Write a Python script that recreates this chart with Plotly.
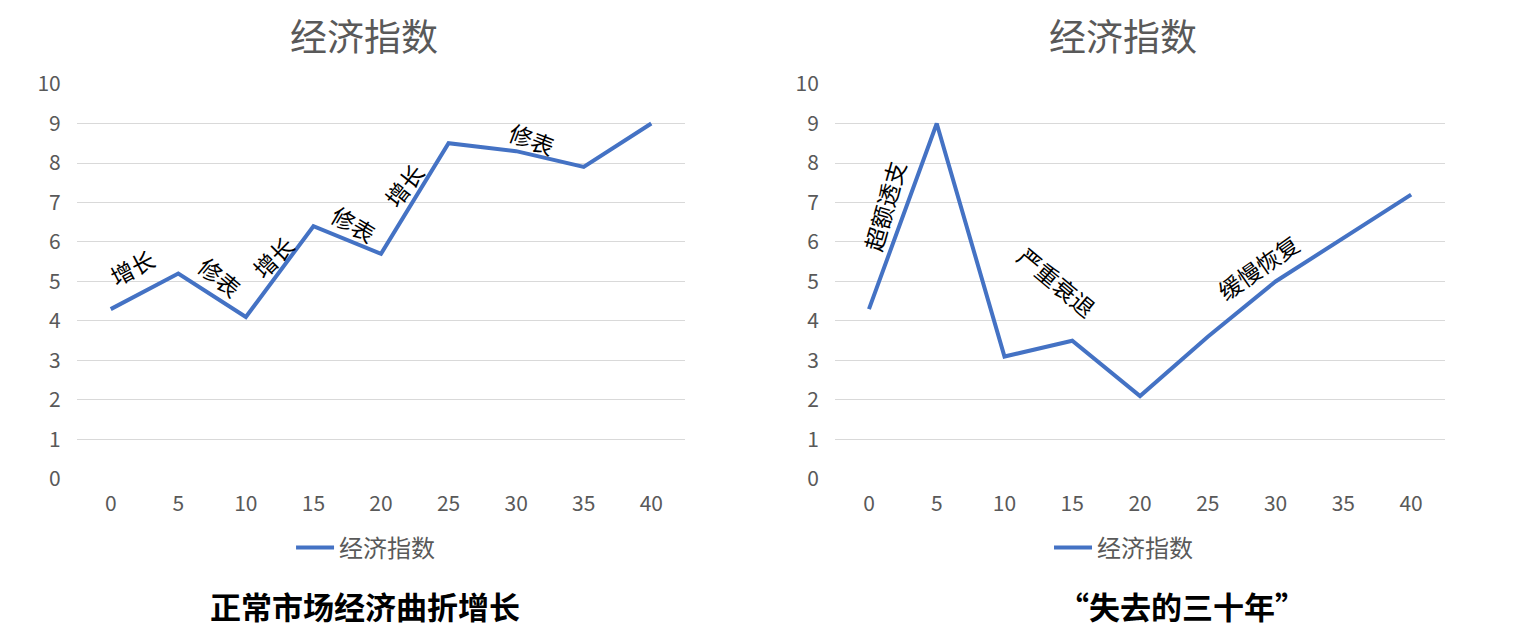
import plotly.graph_objects as go

# Data.
years = [0, 5, 10, 15, 20, 25, 30, 35, 40]
normal_index = [4.3, 5.2, 4.1, 6.4, 5.7, 8.5, 8.3, 7.9, 9.0]
lost_index = [4.3, 9.0, 3.1, 3.5, 2.1, 3.6, 5.0, 6.1, 7.2]
y_ticks = list(range(0, 11))

# Labels written along the lines.
normal_labels = ["增长", "修表", "增长", "修表", "增长", "修表"]
normal_label_x = [1.6, 8.1, 12.0, 18.0, 21.7, 31.2]
normal_label_y = [5.37, 5.11, 5.62, 6.46, 7.44, 8.6]
normal_label_angle = [-28, 40, -45, 31, -52, 21]

lost_labels = ["超额透支", "严重衰退", "缓慢恢复"]
lost_label_x = [1.15, 13.9, 28.7]
lost_label_y = [6.9, 4.99, 5.37]
lost_label_angle = [-74, 40, -35]

series_name = "经济指数"
captions = ["正常市场经济曲折增长", "“失去的三十年”"]

font = "Noto Sans CJK SC, Microsoft YaHei, sans-serif"
grey = "#595959"
blue = "#4472C4"

fig = go.Figure()
fig.add_trace(go.Scatter(x=years, y=normal_index, mode="lines", name=series_name,
                         line=dict(color=blue, width=4), legend="legend",
                         showlegend=True))
fig.add_trace(go.Scatter(x=years, y=lost_index, mode="lines", name=series_name,
                         line=dict(color=blue, width=4), xaxis="x2", yaxis="y2",
                         legend="legend2", showlegend=True))

xaxis_style = dict(range=[-2.5, 42.5], tickvals=years, showgrid=False,
                   zeroline=False, showline=False, ticks="outside", ticklen=6,
                   tickcolor="rgba(0,0,0,0)", tickfont=dict(size=21, color=grey),
                   automargin=False, fixedrange=True)
yaxis_style = dict(range=[0, 10], tickvals=y_ticks, showgrid=True,
                   gridcolor="#D9D9D9", gridwidth=1.3, zeroline=False,
                   showline=False, ticks="outside", ticklen=11,
                   tickcolor="rgba(0,0,0,0)", tickfont=dict(size=21, color=grey),
                   automargin=False, fixedrange=True)

annotations = []
for txt, x, y, a in zip(normal_labels, normal_label_x, normal_label_y, normal_label_angle):
    annotations.append(dict(x=x, y=y, xref="x", yref="y", text=txt, textangle=a,
                            showarrow=False, font=dict(size=23, color="black")))
for txt, x, y, a in zip(lost_labels, lost_label_x, lost_label_y, lost_label_angle):
    annotations.append(dict(x=x, y=y, xref="x2", yref="y2", text=txt, textangle=a,
                            showarrow=False, font=dict(size=23, color="black")))

# Chart titles and bottom captions.
for tx, cx, cap in zip([0.2355, 0.7374], [0.2361, 0.7765], captions):
    annotations.append(dict(x=tx, y=0.9565, xref="paper", yref="paper",
                            xanchor="center", yanchor="middle",
                            text=series_name, showarrow=False,
                            font=dict(size=37, color=grey)))
    annotations.append(dict(x=cx, y=0.038, xref="paper", yref="paper",
                            xanchor="center", yanchor="middle",
                            text="<b>" + cap + "</b>", showarrow=False,
                            font=dict(size=31, color="black")))

legend_style = dict(y=0.1304, xanchor="left", yanchor="middle",
                    font=dict(size=24, color=grey), itemwidth=38,
                    bgcolor="rgba(0,0,0,0)")

# The page puts the plot 8px in from the top-left corner, so the figure is
# sized to fill what is left of the window.
fig.update_layout(
    width=1512, height=621,
    margin=dict(l=0, r=0, t=0, b=0, autoexpand=False),
    paper_bgcolor="white", plot_bgcolor="white",
    font=dict(family=font, color=grey),
    xaxis=dict(domain=[0.0456, 0.4478], anchor="y", **xaxis_style),
    yaxis=dict(domain=[0.2416, 0.8776], anchor="x", **yaxis_style),
    xaxis2=dict(domain=[0.5470, 0.9504], anchor="y2", **xaxis_style),
    yaxis2=dict(domain=[0.2416, 0.8776], anchor="x2", **yaxis_style),
    legend=dict(x=0.1872, **legend_style),
    legend2=dict(x=0.6885, **legend_style),
    annotations=annotations,
)

fig.write_html("out.html")
